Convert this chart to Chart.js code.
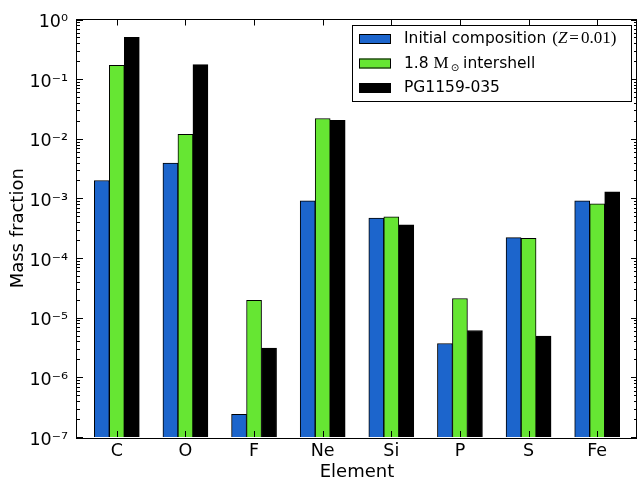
<!DOCTYPE html>
<html><head><meta charset="utf-8">
<script src="https://cdn.jsdelivr.net/npm/chart.js@4.4.0/dist/chart.umd.min.js"></script>
<style>html,body{margin:0;padding:0;background:#fff}#wrap{width:638px;height:481px;position:relative}</style>
</head><body><div id="wrap"><canvas id="c"></canvas></div>
<script>
const categories = ['C', 'O', 'F', 'Ne', 'Si', 'P', 'S', 'Fe'];
const initialComposition = [2.0e-3, 3.9e-3, 2.4e-7, 9.1e-4, 4.7e-4, 3.7e-6, 2.2e-4, 9.1e-4];
const intershell = [0.17, 0.0119, 1.95e-5, 0.0219, 4.9e-4, 2.1e-5, 2.15e-4, 8.1e-4];
const pg1159 = [0.50, 0.175, 3.1e-6, 0.0203, 3.6e-4, 6.1e-6, 4.9e-6, 1.29e-3];
const seriesLabels = ['Initial composition (Z=0.01)', '1.8 M\u2299 intershell', 'PG1159-035'];
const seriesColors = ['#1c65cc', '#66e633', '#000000'];
const yTickValues = [1e-7, 1e-6, 1e-5, 1e-4, 1e-3, 1e-2, 1e-1, 1];
const yTickLabels = ['10\u207B\u2077', '10\u207B\u2076', '10\u207B\u2075', '10\u207B\u2074', '10\u207B\u00B3', '10\u207B\u00B2', '10\u207B\u00B9', '10\u2070'];

const SANS = '"DejaVu Sans"';
const SERIF = '"Liberation Serif"';

function toPoints(arr) { return arr.map((v, i) => ({ x: i, y: v })); }

const decor = {
  id: 'decor',
  afterDatasetsDraw(chart) {
    const { ctx, chartArea: a, scales: { x, y } } = chart;
    ctx.save();
    ctx.strokeStyle = '#000';
    ctx.lineWidth = 1;
    const line = (x1, y1, x2, y2) => { ctx.beginPath(); ctx.moveTo(x1, y1); ctx.lineTo(x2, y2); ctx.stroke(); };
    categories.forEach((c, i) => {
      const px = Math.round(x.getPixelForValue(i)) + 0.5;
      line(px, a.bottom, px, a.bottom - 6);
      line(px, a.top, px, a.top + 6);
    });
    for (let e = -7; e <= 0; e++) {
      for (let m = 1; m <= 9; m++) {
        if (e === 0 && m > 1) break;
        const py = Math.round(y.getPixelForValue(m * Math.pow(10, e))) + 0.5;
        const len = m === 1 ? 6 : 3;
        line(a.left, py, a.left + len, py);
        line(a.right, py, a.right - len, py);
      }
    }
    ctx.strokeRect(Math.round(a.left) - 0.5, Math.round(a.top) - 0.5, Math.round(a.right - a.left), Math.round(a.bottom - a.top) + 1);
    ctx.restore();
  },
  afterDraw(chart) {
    const ctx = chart.ctx;
    const lx = 352, ly = 25, lw = 279, lh = 76;
    ctx.save();
    ctx.fillStyle = '#fff';
    ctx.fillRect(lx, ly, lw, lh);
    ctx.strokeStyle = '#000';
    ctx.lineWidth = 1;
    ctx.strokeRect(lx + 0.5, ly + 0.5, lw, lh);
    const rows = [39, 63.5, 88];
    const rich = [
      [{ t: 'Initial composition ', f: '15.5px ' + SANS, gap: 1 }, { t: '(', f: '17px ' + SERIF }, { t: 'Z', f: 'italic 17px ' + SERIF, gap: 2 }, { t: '=', f: '17px ' + SERIF, gap: 2 }, { t: '0.01)', f: '17px ' + SERIF }],
      [{ t: '1.8 ', f: '15.5px ' + SANS }, { t: 'M', f: '17px ' + SERIF, gap: 2 }, { t: '\u2299', f: '10px ' + SANS, dy: 5, gap: 4 }, { t: 'intershell', f: '15.5px ' + SANS }],
      [{ t: seriesLabels[2], f: '15.5px ' + SANS }]
    ];
    chart.data.datasets.forEach((ds, i) => {
      const cy = rows[i];
      ctx.fillStyle = ds.backgroundColor;
      ctx.fillRect(359, cy - 5, 32, 10);
      ctx.strokeStyle = '#000';
      ctx.strokeRect(359.5, cy - 4.5, 31, 9);
      let tx = 404;
      ctx.fillStyle = '#000';
      ctx.textBaseline = 'middle';
      ctx.textAlign = 'left';
      rich[i].forEach(s => {
        ctx.font = s.f;
        ctx.fillText(s.t, tx, cy + (s.dy || 0));
        tx += ctx.measureText(s.t).width + (s.gap || 0);
      });
    });
    ctx.restore();
  }
};

new Chart(document.getElementById('c'), {
  type: 'bar',
  data: {
    datasets: [
      { label: seriesLabels[0], data: toPoints(initialComposition), backgroundColor: seriesColors[0] },
      { label: seriesLabels[1], data: toPoints(intershell), backgroundColor: seriesColors[1] },
      { label: seriesLabels[2], data: toPoints(pg1159), backgroundColor: seriesColors[2] }
    ]
  },
  options: {
    responsive: true,
    maintainAspectRatio: false,
    animation: false,
    layout: { padding: { top: 18, right: 1, left: 0, bottom: 0 } },
    datasets: { bar: { barThickness: 15, borderColor: '#000', borderWidth: 1, borderSkipped: 'start', grouped: true } },
    plugins: { legend: { display: false }, tooltip: { enabled: false } },
    scales: {
      x: {
        type: 'linear',
        offset: false,
        min: -0.58,
        max: 7.58,
        afterBuildTicks: s => { s.ticks = categories.map((c, i) => ({ value: i })); },
        afterFit: s => { s.height = 44; },
        grid: { display: false, drawTicks: false, offset: false },
        border: { display: false },
        ticks: { padding: 4, color: '#000', font: { family: SANS, size: 17.5 }, maxRotation: 0, autoSkip: false, callback: v => categories[v] },
        title: { display: true, text: 'Element', color: '#000', font: { family: SANS, size: 18, lineHeight: 1 }, padding: { top: 0, bottom: 0 } }
      },
      y: {
        type: 'logarithmic',
        min: 1e-7,
        max: 1,
        afterBuildTicks: s => { s.ticks = yTickValues.map(v => ({ value: v, major: true })); },
        afterFit: s => { s.width = 77; },
        grid: { display: false, drawTicks: false },
        border: { display: false },
        ticks: { padding: 9, labelOffset: 3, color: '#000', font: { family: SANS, size: 17.5 }, autoSkip: false, callback: (v, i) => yTickLabels[i] },
        title: { display: true, text: 'Mass fraction', color: '#000', font: { family: SANS, size: 18, lineHeight: 1 }, padding: { top: 9.5, bottom: 0 } }
      }
    }
  },
  plugins: [decor]
});
</script>
</body></html>
